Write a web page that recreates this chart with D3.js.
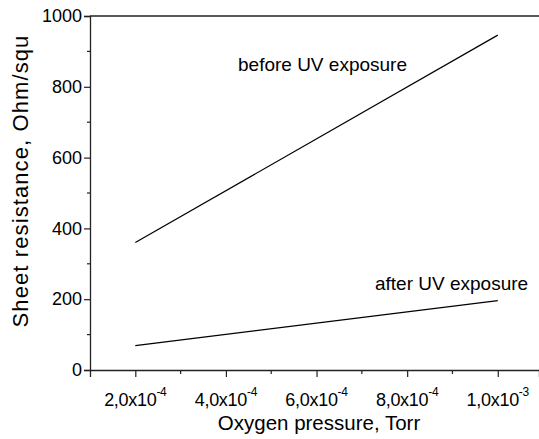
<!DOCTYPE html>
<html>
<head>
<meta charset="utf-8">
<script src="https://cdn.jsdelivr.net/npm/d3@7"></script>
<style>
  html, body { margin: 0; padding: 0; background: #fff; }
  svg { display: block; }
  text { font-family: "Liberation Sans", Arial, sans-serif; fill: #000; }
</style>
</head>
<body>
<svg id="chart" width="539" height="439"></svg>
<script>
// ---- data ----
const pressure = [2e-4, 1e-3];
const beforeUV = [360, 946];
const afterUV = [69, 196];
const xTickValues = [2e-4, 4e-4, 6e-4, 8e-4, 1e-3];
const xTickMantissa = ["2,0", "4,0", "6,0", "8,0", "1,0"];
const xTickExponent = ["-4", "-4", "-4", "-4", "-3"];
const yTickValues = [0, 200, 400, 600, 800, 1000];
const seriesLabels = ["before UV exposure", "after UV exposure"];

(function () {
const svg = d3.select("#chart");
const mLeft = 90, mRight = 539, mTop = 16, mBottom = 370;

const x = d3.scaleLinear().domain([1e-4, 1.091e-3]).range([mLeft, mRight]);
const y = d3.scaleLinear().domain([0, 1000]).range([mBottom, mTop]);

// top frame line
svg.append("line").attr("x1", mLeft).attr("x2", mRight).attr("y1", mTop).attr("y2", mTop)
  .attr("stroke", "#222").attr("stroke-width", 1.3);

// y axis
const yAxis = d3.axisLeft(y).tickValues(yTickValues).tickSize(6).tickPadding(2).tickFormat(d3.format("d"));
const gy = svg.append("g").attr("transform", `translate(${mLeft},0)`).call(yAxis);
gy.select(".domain").attr("stroke", "#222").attr("stroke-width", 1.3);
gy.selectAll(".tick line").attr("stroke", "#222").attr("stroke-width", 1.2);
gy.selectAll(".tick text").style("font-size", "18px").style("font-family", "'Liberation Sans', Arial, sans-serif").attr("fill", "#000");
// y minor ticks
const yMinor = d3.range(100, 1000, 200);
svg.append("g").selectAll("line").data(yMinor).join("line")
  .attr("x1", mLeft - 3).attr("x2", mLeft).attr("y1", d => y(d)).attr("y2", d => y(d))
  .attr("stroke", "#222").attr("stroke-width", 1.2);

// x axis
const xAxis = d3.axisBottom(x).tickValues(xTickValues).tickSize(7).tickFormat("");
const gx = svg.append("g").attr("transform", `translate(0,${mBottom})`).call(xAxis);
gx.select(".domain").attr("stroke", "#222").attr("stroke-width", 1.3);
gx.selectAll(".tick line").attr("stroke", "#222").attr("stroke-width", 1.2);
const xMinor = d3.range(3e-4, 1.0e-3, 2e-4);
svg.append("g").selectAll("line").data(xMinor).join("line")
  .attr("x1", d => x(d)).attr("x2", d => x(d)).attr("y1", mBottom).attr("y2", mBottom + 4)
  .attr("stroke", "#222").attr("stroke-width", 1.2);

// x tick labels with superscripts
const xl = svg.append("g").selectAll("text").data(xTickValues).join("text")
  .attr("x", d => x(d)).attr("y", 406).attr("text-anchor", "middle")
  .style("font-size", "18px").attr("letter-spacing", "-0.3");
xl.append("tspan").text((d, i) => xTickMantissa[i] + "x10");
xl.append("tspan").attr("dy", -10).style("font-size", "12px").text((d, i) => xTickExponent[i]);

// lines
const line = d3.line().x(d => x(d[0])).y(d => y(d[1]));
[beforeUV, afterUV].forEach(vals => {
  svg.append("path").datum(pressure.map((p, i) => [p, vals[i]]))
    .attr("d", line).attr("fill", "none").attr("stroke", "#000").attr("stroke-width", 1.2);
});

// series labels
svg.append("text").attr("x", 238).attr("y", 71).style("font-size", "19px")
  .text(seriesLabels[0]);
svg.append("text").attr("x", 375).attr("y", 290).style("font-size", "19px")
  .text(seriesLabels[1]);

// axis titles
svg.append("text").attr("x", 319).attr("y", 430).attr("text-anchor", "middle")
  .style("font-size", "20.5px").text("Oxygen pressure, Torr");
svg.append("text").attr("transform", "translate(28,181) rotate(-90)").attr("text-anchor", "middle")
  .style("font-size", "22px").attr("letter-spacing", "1.1").text("Sheet resistance, Ohm/squ");
})();
</script>
</body>
</html>
